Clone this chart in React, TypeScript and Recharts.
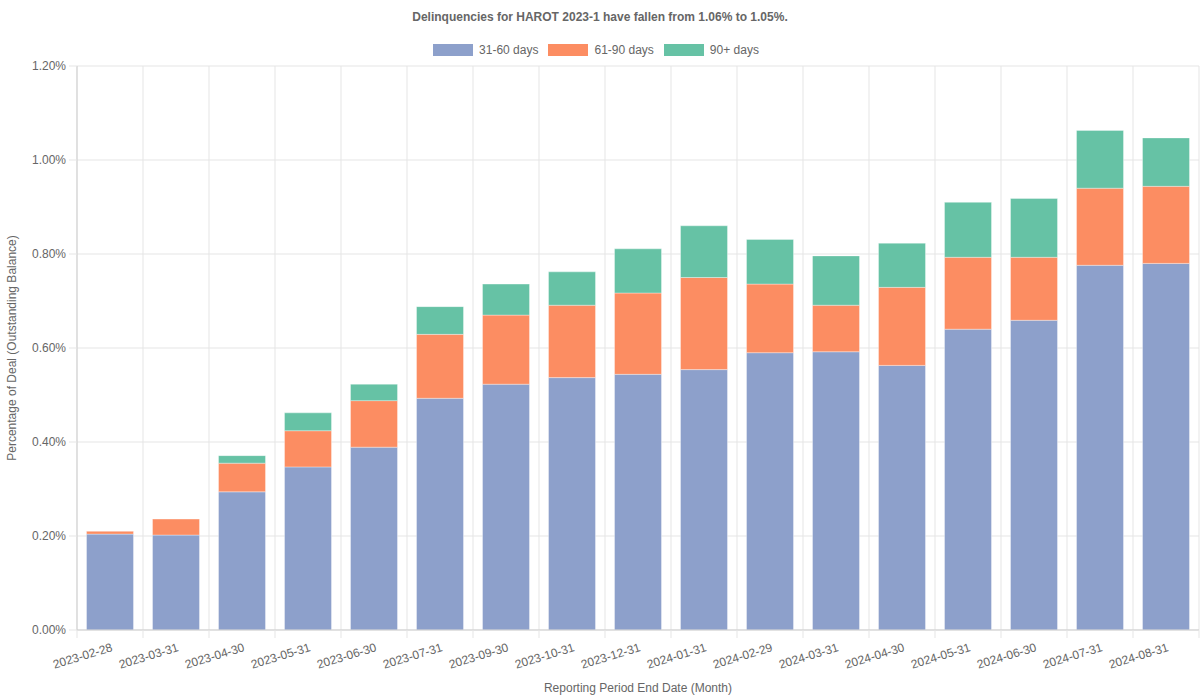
import React from "react";
import {
  BarChart,
  Bar,
  XAxis,
  YAxis,
  CartesianGrid,
} from "recharts";

const months = [
  "2023-02-28",
  "2023-03-31",
  "2023-04-30",
  "2023-05-31",
  "2023-06-30",
  "2023-07-31",
  "2023-09-30",
  "2023-10-31",
  "2023-12-31",
  "2024-01-31",
  "2024-02-29",
  "2024-03-31",
  "2024-04-30",
  "2024-05-31",
  "2024-06-30",
  "2024-07-31",
  "2024-08-31",
];

// percent of outstanding balance
const days31to60 = [
  0.204, 0.202, 0.294, 0.347, 0.389, 0.493, 0.523, 0.537, 0.544, 0.554, 0.59,
  0.592, 0.563, 0.64, 0.659, 0.776, 0.78,
];
const days61to90 = [
  0.006, 0.034, 0.061, 0.077, 0.099, 0.136, 0.147, 0.154, 0.173, 0.196, 0.146,
  0.099, 0.166, 0.153, 0.134, 0.164, 0.164,
];
const days90plus = [
  0, 0, 0.016, 0.038, 0.035, 0.059, 0.066, 0.071, 0.094, 0.11, 0.095, 0.105,
  0.094, 0.117, 0.125, 0.123, 0.103,
];

const yTicks = [0, 0.2, 0.4, 0.6, 0.8, 1.0, 1.2];

const series = [
  { key: "d31", name: "31-60 days", color: "#8da0cb" },
  { key: "d61", name: "61-90 days", color: "#fc8d62" },
  { key: "d90", name: "90+ days", color: "#66c2a5" },
];

const data = months.map((month, i) => ({
  month,
  d31: days31to60[i],
  d61: days61to90[i],
  d90: days90plus[i],
}));

const W = 1200;
const H = 700;
const LEFT = 77;
const RIGHT = 1;
const TOP = 66;
const FONT = '"Liberation Sans", Arial, Helvetica, sans-serif';
const TEXT = "#666";
const GRID = "#e5e5e5";
const AXIS = "#cfcfcf";
const band = (W - LEFT - RIGHT) / months.length;

function MonthTick(props: any) {
  const { x, y, payload, index } = props;
  const edge = x - band / 2;
  return (
    <g>
      <line x1={edge} x2={edge} y1={y - 10} y2={y - 2} stroke={GRID} />
      {index === months.length - 1 && (
        <line x1={x + band / 2} x2={x + band / 2} y1={y - 10} y2={y - 2} stroke={GRID} />
      )}
      <text
        transform={`translate(${x + 2},${y + 7}) rotate(-17)`}
        textAnchor="end"
        dy={4}
        fontSize={12}
        fontFamily={FONT}
        fill={TEXT}
      >
        {payload.value}
      </text>
    </g>
  );
}

export default function App() {
  return (
    <div
      style={{
        position: "absolute",
        left: 0,
        top: 0,
        width: W,
        height: H,
        fontFamily: FONT,
        color: TEXT,
        background: "#fff",
      }}
    >
      <div
        style={{
          position: "absolute",
          top: 10,
          left: 0,
          width: W,
          textAlign: "center",
          fontSize: 12,
          fontWeight: "bold",
        }}
      >
        Delinquencies for HAROT 2023-1 have fallen from 1.06% to 1.05%.
      </div>
      <div
        style={{
          position: "absolute",
          top: 43,
          left: -4,
          width: W,
          display: "flex",
          justifyContent: "center",
          gap: 10,
          fontSize: 12,
        }}
      >
        {series.map((s) => (
          <div key={s.key} style={{ display: "flex", alignItems: "center" }}>
            <span
              style={{
                display: "inline-block",
                width: 40,
                height: 12,
                background: s.color,
                marginRight: 6,
              }}
            />
            <span>{s.name}</span>
          </div>
        ))}
      </div>
      <div
        style={{
          position: "absolute",
          left: 12,
          top: (TOP + 630) / 2,
          transform: "translate(-50%, -50%) rotate(-90deg)",
          whiteSpace: "nowrap",
          fontSize: 12,
        }}
      >
        Percentage of Deal (Outstanding Balance)
      </div>
      <div
        style={{
          position: "absolute",
          left: LEFT,
          width: W - LEFT - RIGHT,
          top: 681,
          textAlign: "center",
          fontSize: 12,
        }}
      >
        Reporting Period End Date (Month)
      </div>
      <BarChart
        width={W}
        height={H}
        data={data}
        margin={{ top: TOP, right: RIGHT, bottom: 0, left: 0 }}
        barCategoryGap="14.4%"
      >
        <CartesianGrid
          stroke={GRID}
          verticalCoordinatesGenerator={({ offset }: any) =>
            Array.from(
              { length: months.length + 1 },
              (_, i) => offset.left + (i * offset.width) / months.length
            )
          }
        />
        <XAxis
          dataKey="month"
          interval={0}
          height={70}
          tickSize={8}
          tickMargin={2}
          tickLine={false}
          axisLine={{ stroke: AXIS }}
          tick={<MonthTick />}
        />
        <YAxis
          width={LEFT}
          domain={[0, 1.2]}
          ticks={yTicks}
          tickSize={8}
          tickMargin={3}
          tickLine={{ stroke: GRID }}
          axisLine={{ stroke: AXIS }}
          tickFormatter={(v: number) => `${v.toFixed(2)}%`}
          tick={{ fontSize: 12, fill: TEXT, fontFamily: FONT }}
        />
        {series.map((s) => (
          <Bar
            key={s.key}
            dataKey={s.key}
            name={s.name}
            stackId="a"
            fill={s.color}
            stroke="#ffffff"
            strokeOpacity={0.35}
            strokeWidth={1}
            isAnimationActive={false}
          />
        ))}
      </BarChart>
    </div>
  );
}
